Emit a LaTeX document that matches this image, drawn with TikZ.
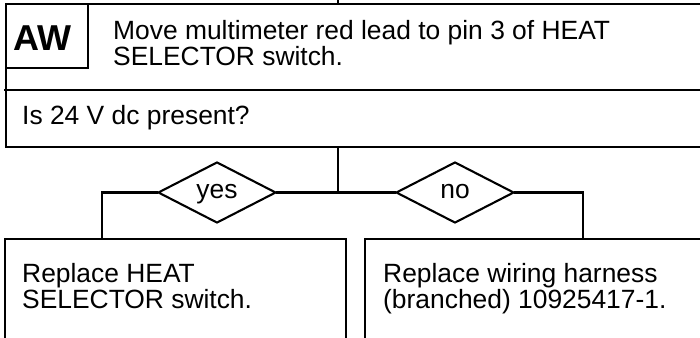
\documentclass[tikz,border=0pt]{standalone}
\usepackage{fontspec}
\setmainfont{Liberation Sans}
\usetikzlibrary{shapes.geometric}
\tikzset{
  ln/.style={line width=2.1pt, line cap=rect},
  boxnode/.style={draw, line width=2.1pt, rectangle, inner sep=0pt, anchor=north west},
  txt/.style={anchor=base west, align=left, inner sep=0pt, font=\fontsize{26.4}{23.5}\selectfont},
  dia/.style={draw, diamond, line width=2.1pt, minimum width=118pt, minimum height=61pt, aspect=1.93, inner sep=0pt, text height=11pt, text depth=0pt, font=\fontsize{26.4}{26}\selectfont},
}
\begin{document}
\begin{tikzpicture}[x=1pt, y=-1pt]
\useasboundingbox (0,0) rectangle (700,337);
\clip (0,0) rectangle (700,337);
% top step box
\node[boxnode, minimum width=720pt, minimum height=143pt] (top) at (5,3) {};
\node[boxnode, minimum width=82pt, minimum height=64pt] (aw) at (5,3) {};
\node[font=\bfseries\fontsize{36}{36}\selectfont, inner sep=0pt, anchor=base] (awt) at (42.5,50) {AW};
\coordinate (divl) at (5,90);
\coordinate (divr) at (720,90);
\draw[ln] (divl) -- (divr);
\node[txt] (t1) at (113,65) {Move multimeter red lead to pin 3 of HEAT\\SELECTOR switch.};
\node[txt] (q) at (22,124) {Is 24 V dc present?};
% connectors
\coordinate (in) at (338,-10);
\coordinate (j) at (338,192.5);
\draw[ln] (in) -- (top.north -| j);
\draw[ln] (top.south -| j) -- (j);
\node[dia] (yes) at (217,192.5) {yes};
\node[dia] (no) at (455,192.5) {no};
\draw[ln] (yes.east) -- (j) -- (no.west);
% bottom boxes
\node[boxnode, minimum width=341pt, minimum height=140pt] (lb) at (4,238) {};
\node[boxnode, minimum width=360pt, minimum height=140pt] (rb) at (364,238) {};
\coordinate (lx) at (102,238);
\coordinate (rx) at (583,238);
\draw[ln] (yes.west) -| (lx);
\draw[ln] (no.east) -| (rx);
\node[txt] (lt) at (22,308) {Replace HEAT\\SELECTOR switch.};
\node[txt] (rt) at (383,308) {Replace wiring harness\\(branched) 10925417-1.};
\end{tikzpicture}
\end{document}
